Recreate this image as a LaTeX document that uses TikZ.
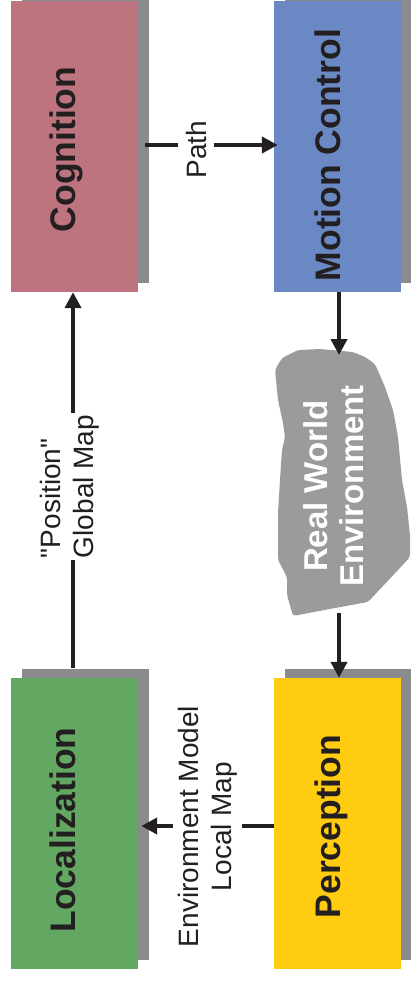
\documentclass[tikz,border=0pt]{standalone}
\usepackage{fontspec}
\setmainfont{Liberation Sans}[Ligatures=TeXOff]
\usetikzlibrary{arrows.meta,shadows,calc}

\definecolor{cogfill}{RGB}{190,116,126}
\definecolor{mcfill}{RGB}{106,136,196}
\definecolor{locfill}{RGB}{99,168,98}
\definecolor{perfill}{RGB}{255,204,17}
\definecolor{shgray}{RGB}{138,139,143}
\definecolor{blobgray}{RGB}{154,155,157}
\definecolor{ink}{RGB}{35,31,32}

\begin{document}
\begin{tikzpicture}[x=1pt,y=-1pt,
  block/.style={draw=none, minimum width=127pt, minimum height=291pt, inner sep=0pt,
    general shadow={fill=shgray, shadow xshift=11pt, shadow yshift=9pt}},
  blocktext/.style={rotate=90, anchor=base, text=ink, inner sep=0pt,
    font=\fontsize{35.5}{40}\selectfont\bfseries},
  flowlbl/.style={rotate=90, fill=white, text=ink, inner xsep=1.5pt, inner ysep=5pt,
    font=\fontsize{28}{32.5}\selectfont},
  arr/.style={draw=ink, line width=4.2pt, -{Triangle[length=16pt,width=16pt]}},
]
\useasboundingbox (0,0) rectangle (411,981);
\clip (0,0) rectangle (411,981);

% the four processing blocks
\node[block, fill=cogfill] (cog) at (74.5,146.5) {};
\node[block, fill=mcfill]  (mc)  at (337.5,146.5) {};
\node[block, fill=locfill] (loc) at (74.5,823.5) {};
\node[block, fill=perfill] (per) at (337.5,823.5) {};

\node[blocktext] (cogt) at (75.5,149.5) {Cognition};
\node[blocktext] (mct)  at (340,155)    {Motion Control};
\node[blocktext] (loct) at (75.5,830)   {Localization};
\node[blocktext] (pert) at (340,826.5)  {Perception};

% the environment blob
\fill[blobgray, rounded corners=3pt]
  (298,350) -- (320,349) -- (353,352) -- (365,357) -- (375,364) -- (385,387)
  -- (393,410) -- (398,437) -- (402,480) -- (407,507) -- (410,535) -- (410,557)
  -- (398,570) -- (368,602) -- (335,608) -- (293,616) -- (287,595) -- (287,577)
  -- (278,560) -- (278,513) -- (280,480) -- (282,450) -- (285,437) -- (283,423)
  -- (278,400) -- (275,370) -- (282,358) -- cycle;
\node[rotate=90, align=center, text=white, inner sep=0pt,
  font=\fontsize{33}{36}\selectfont\bfseries] (env) at (334,486) {Real World\\Environment};
\coordinate (envtop) at (339,355);
\coordinate (envbot) at (339,613);

% data flow
\draw[arr] ([xshift=7pt,yshift=1.5pt]cog.east) -- ([xshift=4pt,yshift=1.5pt]mc.west);
\draw[arr] (mc.south -| envtop) -- (envtop);
\draw[arr] (envbot) -- (per.north -| envbot);
\draw[arr] ([yshift=-2.5pt]per.west) -- ([xshift=3pt,yshift=-2.5pt]loc.east);
\draw[arr] ([xshift=-1.5pt,yshift=10pt]loc.north) -- ([xshift=-1.5pt]cog.south);

% flow labels
\node[flowlbl, anchor=base, inner ysep=7.5pt] (pathlbl) at (206,149.5) {Path};
\node[flowlbl, align=left] (poslbl) at (70,486.5) {"Position"\\Global Map};
\node[flowlbl, align=center] (envlbl) at (207.75,826.5) {Environment Model\\Local Map};
\end{tikzpicture}
\end{document}
